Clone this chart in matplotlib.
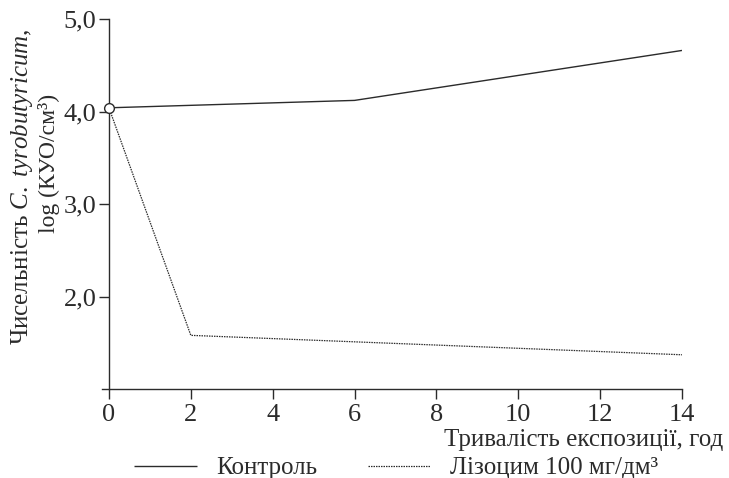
import matplotlib
matplotlib.use("Agg")
import matplotlib.pyplot as plt

plt.rcParams["font.family"] = ["Liberation Serif", "DejaVu Serif"]
plt.rcParams["mathtext.fontset"] = "custom"
plt.rcParams["mathtext.rm"] = "Liberation Serif"
plt.rcParams["mathtext.it"] = "Liberation Serif:italic"

# Exposure time, hours
hours = [0, 2, 6, 14]
control_hours = [0, 6, 14]
# log CFU/cm3
control = [4.04, 4.12, 4.66]
lysozyme = [4.04, 1.58, 1.51, 1.37]

x_ticks = [0, 2, 4, 6, 8, 10, 12, 14]
y_ticks = [2.0, 3.0, 4.0, 5.0]
y_tick_labels = ["2,0", "3,0", "4,0", "5,0"]

ink = "#2b2b2b"

fig = plt.figure(figsize=(7.29, 4.78), dpi=100)
ax = fig.add_axes([102 / 729, 1 - 389 / 478, (682 - 102) / 729, (389 - 19) / 478])

ln_c, = ax.plot(control_hours, control, color=ink, lw=1.0, solid_capstyle="butt")
ln_l, = ax.plot(hours, lysozyme, color=ink, lw=0.9, linestyle=(0, (1.2, 0.8)))
ax.plot([hours[0]], [lysozyme[0]], marker="o", ms=7, mfc="white", mec=ink, mew=1.0,
        linestyle="none", zorder=5, clip_on=False)

ax.set_xlim(-0.17, 14)
ax.set_ylim(1.0, 5.0)
ax.spines["left"].set_position(("data", 0))
ax.spines["top"].set_visible(False)
ax.spines["right"].set_visible(False)
for s in ("left", "bottom"):
    ax.spines[s].set_color(ink)
    ax.spines[s].set_linewidth(1.0)

ax.set_xticks(x_ticks)
ax.set_xticklabels([str(t) for t in x_ticks])
ax.set_yticks(y_ticks)
ax.set_yticklabels(y_tick_labels)
ax.tick_params(axis="both", direction="out", length=7, width=1.0, color=ink,
               labelsize=19, labelcolor=ink, pad=2)
ax.tick_params(axis="x", pad=4)

fig.text(723 / 729, 1 - 440 / 478, "Тривалість експозиції, год", ha="right", va="center",
         fontsize=18, color=ink)

fig.text(22 / 729, 1 - 187 / 478, r"Чисельність $\mathit{C.\ tyrobutyricum}$,",
         rotation=90, ha="center", va="center", fontsize=18, color=ink)
fig.text(49 / 729, 1 - 163 / 478, "log (КУО/см³)",
         rotation=90, ha="center", va="center", fontsize=17, color=ink)

fig.legend([ln_c, ln_l], ["Контроль", "Лізоцим 100 мг/дм³"], ncol=2,
           loc="center left", bbox_to_anchor=(134 / 729, 1 - 468 / 478),
           frameon=False, fontsize=18, handlelength=2.5, handletextpad=0.8,
           columnspacing=2.0, labelcolor=ink, borderpad=0, borderaxespad=0)

fig.savefig("out.png", dpi=100)
